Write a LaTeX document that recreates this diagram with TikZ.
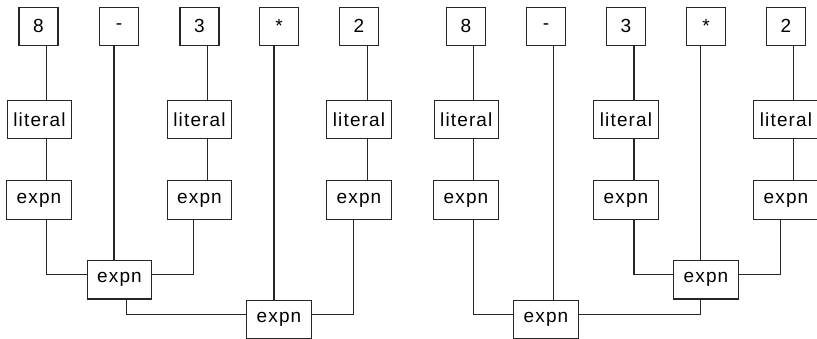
\documentclass[tikz,border=0pt]{standalone}
\usepackage{fontspec}
\setmainfont{Liberation Sans}[LetterSpace=6]
\usetikzlibrary{calc}
\begin{document}
\begin{tikzpicture}[x=1pt,y=-1pt,
  box/.style={draw=black!85,line width=1.1pt,inner sep=0pt,font=\fontsize{19}{22}\selectfont},
  tok/.style={box,minimum width=39pt,minimum height=38pt},
  wide/.style={box,minimum width=64.5pt,minimum height=38.5pt},
  wire/.style={draw=black!85,line width=1.1pt}]
\useasboundingbox (0,0) rectangle (817,339);
% left tree
\node[tok] (a1) at (38.5,26.3) {8};
\node[tok] (a2) at (119,26.3) {-};
\node[tok] (a3) at (199.5,26.3) {3};
\node[tok] (a4) at (279,26.3) {*};
\node[tok] (a5) at (359,26.3) {2};
\node[wide] (al1) at (39.5,119.5) {literal};
\node[wide] (al3) at (199.5,119.5) {literal};
\node[wide] (al5) at (359,119.5) {literal};
\node[wide] (ae1) at (39,200) {expn};
\node[wide] (ae3) at (199.5,200) {expn};
\node[wide] (ae5) at (359,200) {expn};
\node[wide] (aA) at (119.5,279.8) {expn};
\node[wide] (aB) at (279,319.5) {expn};
% right tree
\node[tok] (b1) at (466,26.3) {8};
\node[tok] (b2) at (546,26.3) {-};
\node[tok] (b3) at (626,26.3) {3};
\node[tok] (b4) at (706,26.3) {*};
\node[tok] (b5) at (786,26.3) {2};
\node[wide] (bl1) at (466.3,119.5) {literal};
\node[wide] (bl3) at (626,119.5) {literal};
\node[wide] (bl5) at (786,119.5) {literal};
\node[wide] (be1) at (466,200) {expn};
\node[wide] (be3) at (626,200) {expn};
\node[wide] (be5) at (786,200) {expn};
\node[wide] (bC) at (706,279.8) {expn};
\node[wide] (bD) at (546,319.5) {expn};
% join points
\coordinate (aAw) at ($(aA.west)+(0,-5.5)$);
\coordinate (aAe) at ($(aA.east)+(0,-5.5)$);
\coordinate (aBw) at ($(aB.west)+(0,-5.2)$);
\coordinate (aBe) at ($(aB.east)+(0,-5.2)$);
\coordinate (bCw) at ($(bC.west)+(0,-5.5)$);
\coordinate (bCe) at ($(bC.east)+(0,-5.5)$);
\coordinate (bDw) at ($(bD.west)+(0,-5.2)$);
\coordinate (bDe) at ($(bD.east)+(0,-5.2)$);
% left wires
\coordinate (x1) at ($(a1.south)+(8.2,0)$);
\draw[wire] (x1) -- (x1 |- al1.north) (x1 |- al1.south) -- (x1 |- ae1.north) (x1 |- ae1.south) |- (aAw);
\coordinate (x2) at ($(a2.south)+(-5,0)$);
\draw[wire] (x2) -- (x2 |- aA.north);
\coordinate (x3) at ($(a3.south)+(7.8,0)$);
\draw[wire] (x3) -- (x3 |- al3.north) (x3 |- al3.south) -- (x3 |- ae3.north);
\coordinate (x3b) at ($(ae3.south)+(-6.2,0)$);
\draw[wire] (x3b) |- (aAe);
\coordinate (x4) at ($(a4.south)+(-5,0)$);
\draw[wire] (x4) -- (x4 |- aB.north);
\coordinate (x5) at ($(a5.south)+(8.3,0)$);
\draw[wire] (x5) -- (x5 |- al5.north) (x5 |- al5.south) -- (x5 |- ae5.north);
\coordinate (x5b) at ($(ae5.south)+(-5.7,0)$);
\draw[wire] (x5b) |- (aBe);
\coordinate (xA) at ($(aA.south)+(7.2,0)$);
\draw[wire] (xA) |- (aBw);
% right wires
\coordinate (y1) at ($(b1.south)+(7.7,0)$);
\draw[wire] (y1) -- (y1 |- bl1.north) (y1 |- bl1.south) -- (y1 |- be1.north) (y1 |- be1.south) |- (bDw);
\coordinate (y2) at ($(b2.south)+(7.7,0)$);
\draw[wire] (y2) -- (y2 |- bD.north);
\coordinate (y3) at ($(b3.south)+(8,0)$);
\draw[wire] (y3) -- (y3 |- bl3.north) (y3 |- bl3.south) -- (y3 |- be3.north) (y3 |- be3.south) |- (bCw);
\coordinate (y4) at ($(b4.south)+(-5.7,0)$);
\draw[wire] (y4) -- (y4 |- bC.north);
\coordinate (y5) at ($(b5.south)+(7.7,0)$);
\draw[wire] (y5) -- (y5 |- bl5.north) (y5 |- bl5.south) -- (y5 |- be5.north);
\coordinate (y5b) at ($(be5.south)+(-5.7,0)$);
\draw[wire] (y5b) |- (bCe);
\coordinate (yC) at ($(bC.south)+(-5.7,0)$);
\draw[wire] (yC) |- (bDe);
\end{tikzpicture}
\end{document}
